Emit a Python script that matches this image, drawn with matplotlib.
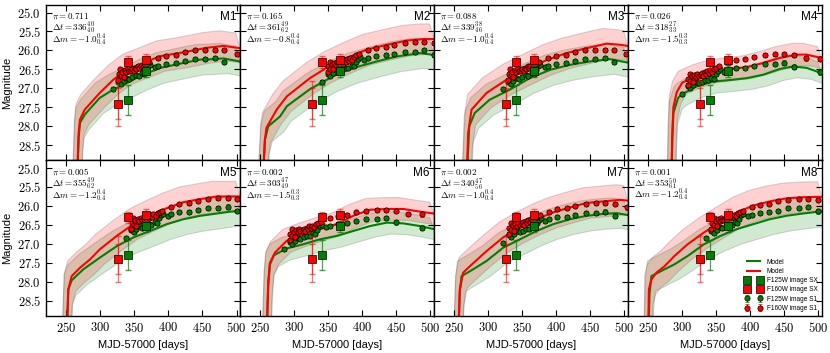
import numpy as np
import matplotlib
matplotlib.use('Agg')
import matplotlib.pyplot as plt
from matplotlib.ticker import MultipleLocator, FuncFormatter

plt.rcParams['font.family'] = ['Liberation Sans', 'DejaVu Sans']
plt.rcParams['mathtext.fontset'] = 'cm'

# panel summary values
panel_names = ['M1', 'M2', 'M3', 'M4', 'M5', 'M6', 'M7', 'M8']
pi_vals = ['0.711', '0.165', '0.088', '0.026', '0.005', '0.002', '0.002', '0.001']
dt_med = [336, 361, 339, 318, 355, 303, 340, 353]
dt_up = [40, 49, 38, 27, 49, 47, 47, 50]
dt_lo = [40, 62, 46, 33, 62, 49, 56, 61]
dm_med = ['-1.0', '-0.8', '-1.0', '-1.5', '-1.2', '-1.5', '-1.0', '-1.2']
dm_err = [0.4, 0.4, 0.4, 0.3, 0.4, 0.3, 0.4, 0.4]

# model light curves (red = F160W, green = F125W)
red_t = [
    [265.6, 268, 270, 277, 299, 319, 339, 363, 388, 422, 456, 481, 505],
    [253.4, 256.8, 259, 274, 289, 323, 347, 377, 406, 436, 465, 490, 505],
    [268, 270.5, 275.4, 297.5, 327, 356, 386, 415, 444.5, 474, 493.5, 505],
    [284, 285.5, 287, 292, 300, 321, 345, 370, 395, 419, 443, 468, 483, 505],
    [250.4, 252.8, 257.8, 270, 284.7, 299.4, 324, 348.4, 372.9, 397.5, 422, 446.5, 471, 490, 505],
    [259.2, 261.6, 264.1, 271.5, 288.7, 313.2, 337.6, 362.2, 386.6, 411.2, 435.7, 460.2, 484.7, 505],
    [255.8, 258.2, 263.1, 272.9, 297.5, 321.9, 346.5, 371, 395.5, 420, 444.5, 469, 493.5, 505],
    [250, 251, 254.8, 262, 274, 288.6, 308, 332, 356.2, 380.4, 404.5, 428.7, 452.9, 477, 501.2, 505],
]
red_m = [
    [29.5, 28.17, 27.82, 27.56, 27.12, 26.77, 26.5, 26.33, 26.15, 26.05, 25.93, 25.88, 25.94],
    [29.5, 28.35, 28.04, 27.56, 27.21, 26.73, 26.46, 26.2, 25.98, 25.85, 25.74, 25.7, 25.7],
    [29.5, 28.17, 27.56, 27.12, 26.77, 26.51, 26.25, 26.07, 25.94, 25.82, 25.85, 25.88],
    [29.5, 28.2, 27.5, 27.1, 26.85, 26.68, 26.55, 26.49, 26.44, 26.33, 26.2, 26.11, 26.11, 26.2],
    [29.5, 28.2, 27.85, 27.63, 27.41, 27.14, 26.79, 26.48, 26.26, 26.06, 25.9, 25.82, 25.75, 25.75, 25.75],
    [29.5, 28.12, 27.5, 27.23, 26.92, 26.75, 26.61, 26.48, 26.26, 26.1, 26.08, 26.08, 26.15, 26.2],
    [29.5, 28.2, 27.76, 27.59, 27.19, 26.83, 26.57, 26.35, 26.17, 26.04, 25.92, 25.88, 25.84, 25.86],
    [29.5, 28.2, 27.94, 27.76, 27.59, 27.32, 27.01, 26.7, 26.43, 26.17, 25.99, 25.88, 25.8, 25.77, 25.76, 25.76],
]
green_t = [
    [265.6, 268, 270, 277, 299, 319, 339, 348, 363, 388, 422, 447, 456, 481, 505],
    [253.4, 256.8, 261.6, 279, 289, 323, 357, 387, 421, 450, 485, 505],
    [268, 272, 280, 302, 332, 361, 391, 420, 449, 479, 505],
    [284, 285.5, 287, 294, 300, 321, 345, 370, 395, 419, 443, 463, 483, 505],
    [250.4, 252.8, 257.8, 274.9, 299.4, 324, 348.4, 372.9, 397.5, 422, 446.5, 471, 490.6, 505],
    [259.2, 261.6, 264, 270, 288.7, 313.2, 337.6, 362.2, 386.6, 411.2, 435.7, 460.2, 484.7, 505],
    [255.8, 258, 260.7, 277.8, 297.5, 321.9, 346.5, 371, 395.5, 420, 444.5, 469, 488.6, 505],
    [250, 252, 254.8, 274, 288.6, 308, 332, 356.2, 380.4, 404.5, 428.7, 452.9, 477, 501.2, 505],
]
green_m = [
    [29.5, 28.3, 27.91, 27.69, 27.25, 27.03, 26.86, 26.77, 26.64, 26.46, 26.33, 26.24, 26.24, 26.21, 26.29],
    [29.5, 28.35, 28.0, 27.74, 27.47, 27.02, 26.68, 26.46, 26.29, 26.16, 26.07, 26.12],
    [29.5, 28.0, 27.65, 27.3, 27.03, 26.73, 26.51, 26.38, 26.29, 26.23, 26.32],
    [29.5, 28.3, 27.65, 27.25, 27.15, 26.95, 26.82, 26.78, 26.73, 26.64, 26.49, 26.42, 26.46, 26.6],
    [29.5, 28.2, 27.96, 27.67, 27.36, 27.06, 26.83, 26.66, 26.48, 26.35, 26.26, 26.2, 26.15, 26.13],
    [29.5, 28.0, 27.55, 27.3, 27.12, 27.01, 26.88, 26.79, 26.66, 26.53, 26.44, 26.46, 26.53, 26.61],
    [29.5, 28.3, 27.85, 27.67, 27.45, 27.1, 26.88, 26.66, 26.48, 26.35, 26.26, 26.21, 26.19, 26.24],
    [29.5, 28.3, 27.85, 27.67, 27.54, 27.32, 27.01, 26.79, 26.61, 26.48, 26.35, 26.26, 26.2, 26.15, 26.15],
]

# image S1 photometry, as placed in panel M1
s1_red_t = [326, 327, 329, 330, 332, 334, 336, 338, 340, 342, 345, 347, 349, 351, 353, 355,
            357, 359, 362, 365, 368, 372, 385, 397, 411, 424, 439, 454, 468, 482, 500, 520]
s1_red_m = [26.78, 26.62, 26.5, 26.68, 26.56, 26.7, 26.52, 26.58, 26.5, 26.55, 26.53, 26.48,
            26.55, 26.45, 26.5, 26.42, 26.47, 26.4, 26.44, 26.36, 26.33, 26.3, 26.2, 26.14,
            26.11, 26.05, 26.0, 25.98, 25.98, 26.0, 26.09, 26.1]
s1_red_e = [0.05, 0.04, 0.04, 0.05, 0.04, 0.05, 0.04, 0.04, 0.04, 0.04, 0.04, 0.04, 0.04,
            0.04, 0.04, 0.04, 0.04, 0.04, 0.04, 0.04, 0.04, 0.04, 0.04, 0.04, 0.04, 0.04,
            0.04, 0.04, 0.05, 0.05, 0.06, 0.07]
s1_grn_t = [318, 326, 330, 334, 338, 342, 347, 352, 356, 361, 364, 367, 370, 373, 380, 385,
            397, 411, 424, 439, 454, 468, 482, 520]
s1_grn_m = [27.02, 26.82, 26.88, 26.8, 26.72, 26.75, 26.7, 26.66, 26.67, 26.6, 26.62, 26.51,
            26.42, 26.38, 26.44, 26.4, 26.35, 26.33, 26.29, 26.23, 26.23, 26.2, 26.31, 26.45]
s1_grn_e = [0.05, 0.05, 0.05, 0.05, 0.05, 0.05, 0.05, 0.05, 0.05, 0.05, 0.05, 0.05, 0.05,
            0.05, 0.05, 0.05, 0.05, 0.05, 0.05, 0.05, 0.05, 0.06, 0.06, 0.07]
# shift of the S1 points in each panel relative to M1
s1_dt = [0, 23, 3, -18, 19, -33, 4, 17]
s1_dm = [0.0, -0.2, 0.0, 0.12, -0.18, 0.12, -0.05, -0.17]

# image SX photometry
sx_red_t = [326, 341, 367]
sx_red_m = [27.4, 26.3, 26.24]
sx_red_e = [0.6, 0.15, 0.15]
sx_red_e2 = [0.4, 0.0, 0.0]
sx_grn_t = [341, 367]
sx_grn_m = [27.3, 26.54]
sx_grn_e = [0.4, 0.15]

fig, axes = plt.subplots(2, 4, figsize=(8.3, 3.53), dpi=100, sharex=True, sharey=True)
fig.subplots_adjust(left=0.0554, right=0.990, top=0.986, bottom=0.105, wspace=0, hspace=0)

H = 155.0  # panel height in pixels, used to place the corner texts

for i, ax in enumerate(axes.flat):
    w = dm_err[i]
    # uncertainty bands
    for t, m, col in [(green_t[i], green_m[i], 'g'), (red_t[i], red_m[i], 'r')]:
        t = np.array(t)
        m = np.array(m)
        ax.fill(np.concatenate([t - 6, (t + 6)[::-1]]),
                np.concatenate([m - w, (m + w)[::-1]]),
                fc=col, alpha=0.18, ec='0.2', lw=0.8, zorder=1)
    lg, = ax.plot(green_t[i], green_m[i], color='g', lw=1.5, zorder=2)
    lr, = ax.plot(red_t[i], red_m[i], color='r', lw=1.5, zorder=2)

    # S1 points
    eg = ax.errorbar(np.array(s1_grn_t) + s1_dt[i], np.array(s1_grn_m) + s1_dm[i], yerr=s1_grn_e,
                     fmt='o', color='g', mec='k', ms=3.8, mew=0.5, elinewidth=0.8,
                     capsize=1.5, zorder=3)
    er = ax.errorbar(np.array(s1_red_t) + s1_dt[i], np.array(s1_red_m) + s1_dm[i], yerr=s1_red_e,
                     fmt='o', color='r', mec='k', ms=3.8, mew=0.5, elinewidth=0.8,
                     capsize=1.5, zorder=3)

    # SX points
    ax.errorbar(sx_red_t, sx_red_m, yerr=sx_red_e, fmt='none', ecolor='r', alpha=0.55,
                elinewidth=0.9, capsize=2, zorder=4)
    ax.errorbar(sx_red_t, sx_red_m, yerr=sx_red_e2, fmt='none', ecolor='r', alpha=0.55,
                elinewidth=0.9, capsize=2, zorder=4)
    ax.errorbar(sx_grn_t, sx_grn_m, yerr=sx_grn_e, fmt='none', ecolor='g', alpha=0.7,
                elinewidth=0.9, capsize=2, zorder=4)
    sg, = ax.plot(sx_grn_t, sx_grn_m, 's', color='g', mec='k', ms=6, mew=0.5, zorder=5)
    sr, = ax.plot(sx_red_t, sx_red_m, 's', color='r', mec='k', ms=6, mew=0.5, zorder=5)

    ax.text(0.03, 1 - 14 / H, r'$\pi=%s$' % pi_vals[i], transform=ax.transAxes,
            fontsize=6.5, va='baseline', ha='left')
    info = '\n'.join([r'$\Delta t=%d^{%d}_{%d}$' % (dt_med[i], dt_up[i], dt_lo[i]),
                      r'$\Delta m=%s^{%.1f}_{%.1f}$' % (dm_med[i], w, w)])
    ax.text(0.03, 1 - 15.5 / H, info, transform=ax.transAxes, fontsize=6.5,
            va='top', ha='left', linespacing=0.7)
    ax.text(0.98, 1 - 12.5 / H, panel_names[i], transform=ax.transAxes,
            fontsize=8.5, va='center', ha='right')

    ax.set_xlim(220, 505)
    ax.set_ylim(28.9, 24.8)
    ax.xaxis.set_major_locator(MultipleLocator(50))
    ax.yaxis.set_major_locator(MultipleLocator(0.5))
    ax.xaxis.set_major_formatter(FuncFormatter(lambda v, p: r'$%d$' % v))
    ax.yaxis.set_major_formatter(FuncFormatter(lambda v, p: r'$%.1f$' % v))
    ax.tick_params(direction='in', top=True, right=True, length=4, width=0.8, labelsize=9)
    for s in ax.spines.values():
        s.set_linewidth(1.0)

    if i == 7:
        ax.legend([lg, lr, sg, sr, eg, er],
                  ['Model', 'Model', 'F125W image SX', 'F160W image SX',
                   'F125W image S1', 'F160W image S1'],
                  loc='lower right', fontsize=4.7, numpoints=2, frameon=False,
                  handlelength=2.5, labelspacing=0.35, borderaxespad=0.2)

for ax in axes[:, 0]:
    ax.set_ylabel('Magnitude', fontsize=8)
for ax in axes[1, :]:
    ax.set_xlabel('MJD-57000 [days]', fontsize=8)

fig.savefig('out.png', dpi=100)
